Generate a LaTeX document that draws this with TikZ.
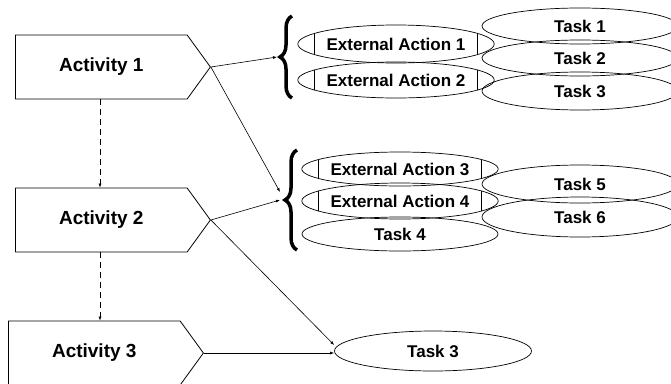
\documentclass[tikz,border=0pt]{standalone}
\usepackage{fontspec}
\setmainfont{Liberation Sans}
\usetikzlibrary{arrows.meta,shapes.geometric,shapes.symbols,decorations.pathreplacing}

\begin{document}
\begin{tikzpicture}[x=1pt, y=-1pt,
  activity/.style={signal, signal to=east, signal pointer angle=108, draw, line width=0.8pt,
    minimum width=195pt, minimum height=64pt, inner sep=0pt, anchor=west,
    font=\fontsize{19}{22}\selectfont\bfseries},
  task/.style={ellipse, draw, line width=0.7pt, minimum width=196pt, minimum height=36pt,
    inner sep=0pt, font=\fontsize{17}{20}\selectfont\bfseries},
  extaction/.style={task, path picture={
      \draw[line width=0.7pt]
        ([xshift=17pt]path picture bounding box.south west) -- ([xshift=17pt]path picture bounding box.north west)
        ([xshift=-17pt]path picture bounding box.south east) -- ([xshift=-17pt]path picture bounding box.north east);}},
  flow/.style={-{Latex[length=4pt,width=3pt]}, line width=0.6pt},
  seqflow/.style={flow, dash pattern=on 6pt off 4pt},
  groupbrace/.style={decorate, decoration={brace, amplitude=12pt}, line width=3.5pt}]
  \useasboundingbox (0,0) rectangle (671,383);

  % Activities
  \node[activity] (act1) at (15,67) {Activity 1};
  \node[activity] (act2) at (15,220) {Activity 2};
  \node[activity] (act3) at (8,353) {Activity 3};

  % First group
  \draw[groupbrace] (292,98) -- (292,16);
  \coordinate (br1) at (277,57);
  \node[extaction, minimum height=38pt] (ea1) at (396,44) {External Action 1};
  \node[extaction] (ea2) at (396,80) {External Action 2};
  \node[task] (t1) at (580,26) {Task 1};
  \node[task] (t2) at (580,58) {Task 2};
  \node[task, minimum height=38pt] (t3) at (580,91) {Task 3};

  % Second group
  \draw[groupbrace] (297,250) -- (297,150);
  \coordinate (br2a) at (280,192);
  \coordinate (br2b) at (280,200);
  \node[extaction, minimum height=34pt] (ea3) at (400,169) {External Action 3};
  \node[extaction, minimum height=36pt] (ea4) at (400,201) {External Action 4};
  \node[task, minimum height=34pt] (t4) at (400,234) {Task 4};
  \node[task, minimum height=38pt] (t5) at (580,184) {Task 5};
  \node[task, minimum height=40pt] (t6) at (580,217) {Task 6};

  % Last task
  \node[task, minimum width=197pt, minimum height=40pt] (t3b) at (433,351) {Task 3};

  % Sequence
  \coordinate (seq) at (100,0);
  \draw[seqflow] (seq |- act1.south) -- (seq |- act2.north);
  \draw[seqflow] (seq |- act2.south) -- (seq |- act3.north);

  % Links
  \draw[flow] (act1.east) -- (br1);
  \draw[flow] (act1.east) -- (br2a);
  \draw[flow] (act2.east) -- (br2b);
  \draw[flow] (act2.east) -- ([yshift=6pt]t3b.west);
  \draw[flow] (act3.east) -- (act3.east -| t3b.west);

\end{tikzpicture}
\end{document}
